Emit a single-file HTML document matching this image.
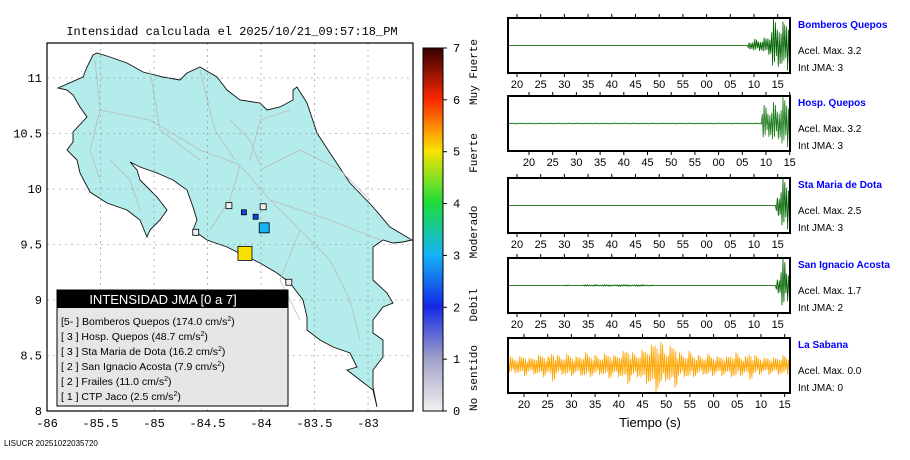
<!DOCTYPE html>
<html><head><meta charset="utf-8"><style>
body{margin:0;background:#fff;width:910px;height:460px;overflow:hidden}
svg{display:block;font-family:"Liberation Sans",sans-serif}
</style></head><body>
<svg id="s" width="910" height="460" xmlns="http://www.w3.org/2000/svg">
<text x="232" y="35" font-family="Liberation Mono,monospace" font-size="12" text-anchor="middle">Intensidad calculada el 2025/10/21_09:57:18_PM</text>
<text x="4" y="446" font-size="8">LISUCR 20251022035720</text>
<text x="650" y="427" font-size="13" text-anchor="middle">Tiempo (s)</text>
</svg>
<script>
const NS='http://www.w3.org/2000/svg';
const svg=document.getElementById('s');
function el(t,a,p){const e=document.createElementNS(NS,t);for(const k in a)e.setAttribute(k,a[k]);(p||svg).appendChild(e);return e;}
// ---- map data
const lonTicks=[-86,-85.5,-85,-84.5,-84,-83.5,-83];
const latTicks=[8,8.5,9,9.5,10,10.5,11];
// outline traced in plot pixel coordinates, converted to lon/lat below
const outlinePx=[[93,55],[87,67],[83,77],[58,88],[67,90],[73,95],[80,107],[87,117],[73,132],[73,142],[67,150],[77,160],[80,173],[90,192],[107,203],[127,210],[140,220],[147,237],[150,230],[160,220],[167,210],[157,197],[147,187],[140,180],[137,170],[130,162],[140,167],[157,173],[173,180],[187,190],[193,207],[197,220],[193,230],[207,240],[227,247],[243,255],[260,263],[277,273],[290,283],[303,300],[307,317],[307,330],[320,340],[333,347],[350,353],[357,367],[347,370],[360,380],[373,390],[377,407],[373,387],[373,370],[383,357],[383,340],[373,333],[373,320],[383,307],[393,303],[387,293],[373,280],[373,247],[383,240],[393,243],[403,242],[412,240],[390,227],[373,207],[350,183],[330,153],[317,133],[307,103],[297,87],[293,90],[293,100],[280,107],[267,110],[260,103],[240,100],[227,90],[217,77],[200,67],[187,73],[180,80],[163,77],[143,72],[127,63],[110,57],[97,53]];
const roadsPx=[[[95,60],[100,110],[90,150],[100,180]],[[100,110],[150,120],[200,150],[240,165]],[[150,70],[160,130],[200,160]],[[200,70],[215,130],[235,160]],[[240,165],[270,200],[300,230],[330,260],[350,300],[360,340]],[[240,165],[230,200],[210,230]],[[260,170],[300,150],[340,170],[370,200]],[[250,160],[260,120],[290,110]],[[300,230],[280,280],[300,320]],[[230,120],[250,140],[260,165]],[[110,160],[130,180],[140,210]],[[270,200],[330,220],[380,240]]];
const stLon=[-84.15,-83.97,-84.16,-84.05,-84.30,-83.98,-84.61,-83.74];
const stLat=[9.42,9.65,9.79,9.75,9.85,9.84,9.61,9.16];
const stInt=[5,3,2.2,2.2,0,0,0,0];
const stSize=[14,10,5,5,6,6,6,6];
const scaleVals=[0,1,2,3,4,5,6,7];
const X=l=>47+(l+86)*107, Y=l=>78+(11-l)*111;
const coast=outlinePx.map(p=>[(p[0]-47)/107-86,11-(p[1]-78)/111]);
const map=el('g',{});
el('rect',{x:47,y:43,width:366,height:368,fill:'#fff'},map);
el('polygon',{points:coast.map(c=>X(c[0])+','+Y(c[1])).join(' '),fill:'#b4ecec',stroke:'#111','stroke-width':0.9,},map);
roadsPx.forEach(r=>{const pl=el('polyline',{points:r.map(p=>p.join(',')).join(' '),fill:'none',stroke:'#bbb','stroke-width':0.8},map);});
lonTicks.forEach(v=>{el('line',{x1:X(v),x2:X(v),y1:43,y2:411,stroke:'#888','stroke-dasharray':'2,4','stroke-width':0.6},map);
 const t=el('text',{x:X(v),y:427,'font-size':12,'text-anchor':'middle','font-family':'Liberation Mono,monospace',},map);t.textContent=v;});
latTicks.forEach(v=>{el('line',{x1:47,x2:413,y1:Y(v),y2:Y(v),stroke:'#888','stroke-dasharray':'2,4','stroke-width':0.6},map);
 const t=el('text',{x:42,y:Y(v)+4,'font-size':12,'text-anchor':'end','font-family':'Liberation Mono,monospace',},map);t.textContent=v;});
el('rect',{x:47,y:43,width:366,height:368,fill:'none',stroke:'#000','stroke-width':1.2},map);
function icol(v){const st=[[0,[240,240,240]],[1,[160,160,200]],[2,[20,40,230]],[3,[20,180,245]],[4,[30,220,60]],[5,[250,225,0]],[6,[250,40,0]],[7,[50,0,0]]];
 for(let i=0;i<st.length-1;i++){if(v<=st[i+1][0]){const f=(v-st[i][0]);const a=st[i][1],b=st[i+1][1];return 'rgb('+a.map((x,k)=>Math.round(x+(b[k]-x)*f)).join(',')+')';}}return 'rgb(50,0,0)';}
stLon.forEach((l,i)=>{const s=stSize[i];const r=el('rect',{x:X(l)-s/2,y:Y(stLat[i])-s/2,width:s,height:s,fill:icol(stInt[i]),stroke:'#000','stroke-width':0.8},map);
 });
const lg=el('g',{});
el('rect',{x:57,y:290,width:231,height:116,fill:'#e6e6e6',stroke:'#000'},lg);
el('rect',{x:57,y:290,width:231,height:18,fill:'#000'},lg);
let tt=el('text',{x:163,y:304,'font-size':13,fill:'#fff','text-anchor':'middle'},lg);tt.textContent='INTENSIDAD JMA [0 a 7]';
const legRows=[['[5- ]','Bomberos Quepos (174.0 cm/s'],['[ 3 ]','Hosp. Quepos (48.7 cm/s'],['[ 3 ]','Sta Maria de Dota (16.2 cm/s'],['[ 2 ]','San Ignacio Acosta (7.9 cm/s'],['[ 2 ]','Frailes (11.0 cm/s'],['[ 1 ]','CTP Jaco (2.5 cm/s']];
legRows.forEach((r,i)=>{const t=el('text',{x:61,y:325+i*15,'font-size':10.5},lg);
 t.innerHTML=r[0]+' '+r[1]+'<tspan dy="-4" font-size="7">2</tspan><tspan dy="4">)</tspan>';});
const cb=el('g',{});
for(let k=0;k<140;k++){const v=k/20;el('rect',{x:423,y:411-(v+0.05)*51.86,width:20,height:3,fill:icol(v)},cb);}
el('rect',{x:423,y:48,width:20,height:363,fill:'none',stroke:'#000'},cb);
scaleVals.forEach(v=>{const y=411-v*51.86;el('line',{x1:443,x2:447,y1:y,y2:y,stroke:'#000'},cb);
 const t=el('text',{x:453,y:y+4,'font-size':12,'font-family':'Liberation Mono,monospace'},cb);t.textContent=v;});
[['Muy Fuerte',72],['Fuerte',153],['Moderado',232],['Debil',305],['No sentido',378]].forEach(a=>{const t=el('text',{x:0,y:0,'font-size':11,'font-family':'Liberation Mono,monospace','text-anchor':'middle',transform:'translate(477,'+a[1]+') rotate(-90)'},cb);t.textContent=a[0];});
// ---- seismograms
const names=['Bomberos Quepos','Hosp. Quepos','Sta Maria de Dota','San Ignacio Acosta','La Sabana'];
const acel=['3.2','3.2','2.5','1.7','0.0'];
const jma=['3','3','3','2','0'];
const panelTop=[18,96,178,258,338];
const tickLabels=['20','25','30','35','40','45','50','55','00','05','10','15'];
const tickStart=[517,529,517,517,524];
const amp0=[0,0,0,0,0,0,0,0,0,0,0,0,0,0,0,0,0,0,0,0,0,0,0,0,0,0,0,0,0,0,0,0,0,0,0,0,0,0,0,0,0,0,0,0,0,0,0,0,0,0,0,0.15,0.25,0.2,0.3,0.35,1.0,0.8,0.9,0.95];
const amp1=[0.02,0.02,0.02,0.02,0.02,0.02,0.02,0.02,0.02,0.02,0.02,0.02,0.02,0.02,0.02,0.02,0.02,0.02,0.02,0.02,0.02,0.02,0.02,0.02,0.02,0.02,0.02,0.02,0.02,0.02,0.02,0.02,0.02,0.02,0.02,0.02,0.02,0.02,0.02,0.02,0.02,0.02,0.02,0.02,0.02,0.02,0.02,0.02,0.02,0.02,0.02,0.02,0.02,0.02,0.7,0.5,0.8,0.6,1.0,0.9];
const amp2=[0,0,0,0,0,0,0,0,0,0,0,0,0,0,0,0,0,0,0,0,0,0,0,0,0,0,0,0,0,0,0,0,0,0,0,0,0,0,0,0,0,0,0,0,0,0,0,0,0,0,0,0,0,0,0,0,0,0.4,1.0,0.9];
const amp3=[0,0,0,0,0,0,0,0,0,0,0,0,0.02,0,0,0,0.03,0.02,0.03,0.02,0.03,0.03,0.02,0.03,0.03,0.03,0.02,0.03,0.03,0.02,0.02,0,0,0,0,0,0,0,0,0,0,0,0,0,0,0,0,0,0,0,0,0,0,0,0,0,0,0.3,1.0,0.6];
const amp4=[0.35,0.3,0.35,0.4,0.3,0.35,0.4,0.45,0.35,0.6,0.4,0.35,0.45,0.4,0.35,0.4,0.5,0.45,0.4,0.35,0.45,0.5,0.4,0.45,0.55,0.7,0.5,0.45,0.6,0.7,0.8,1.0,0.9,0.6,0.75,0.85,0.5,0.45,0.55,0.45,0.4,0.35,0.45,0.4,0.35,0.4,0.35,0.45,0.5,0.4,0.35,0.55,0.4,0.35,0.3,0.35,0.3,0.35,0.4,0.35];
const amps=[amp0,amp1,amp2,amp3,amp4];
const lineCol=['#006400','#1a7a1a','#006400','#006400','#ffa500'];
names.forEach((n,p)=>{
 const g=el('g',{});
 const top=panelTop[p],h=55,x0=508,w=282,mid=top+h/2;
 el('line',{x1:x0,x2:x0+w,y1:mid,y2:mid,stroke:p==4?'#ffa500':'#aca','stroke-width':0.8},g);
 const a=amps[p];let d='M'+x0+' '+mid;const steps=a.length*5;
 for(let k=0;k<steps;k++){const v=a[Math.floor(k/5)];const x=x0+(k+0.5)*w/steps;const s=(k%2?1:-1)*(0.5+0.5*((k*7)%5)/4);
  d+=' L'+x.toFixed(1)+' '+(mid+s*v*(h/2-1)).toFixed(1);}
 const pth=el('path',{d:d,fill:'none',stroke:lineCol[p],'stroke-width':0.8},g);
 
 el('rect',{x:x0,y:top,width:w,height:h,fill:'none',stroke:'#000','stroke-width':2},g);
 tickLabels.forEach((t,i)=>{const x=tickStart[p]+i*23.7;
  el('line',{x1:x,x2:x,y1:top-4,y2:top,stroke:'#000'},g);el('line',{x1:x,x2:x,y1:top+h,y2:top+h+4,stroke:'#000'},g);
  const tx=el('text',{x:x,y:top+h+15,'font-size':11,'text-anchor':'middle'},g);tx.textContent=t;});
 let t=el('text',{x:798,y:top+10,'font-size':10,'font-weight':'bold',fill:'#0000ff'},g);t.textContent=n;
 
 t=el('text',{x:798,y:top+36,'font-size':10},g);t.textContent='Acel. Max. '+acel[p];
 t=el('text',{x:798,y:top+53,'font-size':10},g);t.textContent='Int JMA: '+jma[p];
});
</script>
</body></html>
